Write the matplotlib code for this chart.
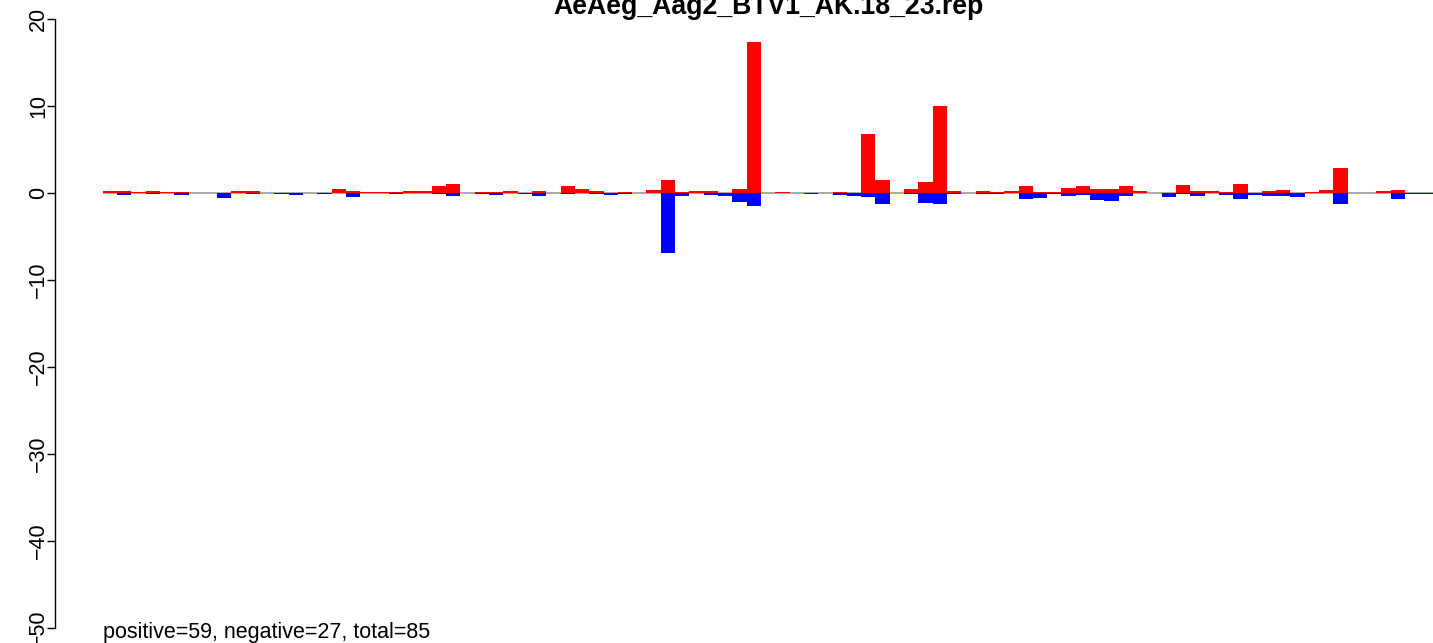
import matplotlib
matplotlib.use("Agg")
import matplotlib.pyplot as plt
import numpy as np

plt.rcParams['font.family'] = ['Liberation Sans', 'DejaVu Sans']

title = "AeAeg_Aag2_BTV1_AK.18_23.rep"
summary = "positive=59, negative=27, total=85"

positive = [0.23, 0.23, 0.1, 0.23, 0.1, 0.1, 0, 0, 0, 0.23,
            0.23, 0, 0, 0, 0, 0, 0.46, 0.23, 0.1, 0.1,
            0.1, 0.23, 0.23, 0.8, 1.03, 0, 0.1, 0.1, 0.23, 0,
            0.23, 0, 0.8, 0.46, 0.23, 0, 0.1, 0, 0.35, 1.5,
            0.1, 0.23, 0.23, 0, 0.46, 17.36, 0, 0.1, 0, 0,
            0, 0.1, 0, 6.78, 1.5, 0, 0.46, 1.26, 10.0, 0.23,
            0, 0.23, 0.1, 0.23, 0.8, 0.1, 0.1, 0.57, 0.8, 0.46,
            0.46, 0.8, 0.23, 0, 0, 0.92, 0.23, 0.23, 0.1, 1.03,
            0, 0.23, 0.35, 0, 0.1, 0.35, 2.87, 0, 0, 0.23,
            0.35, 0, 0]

negative = [0, -0.23, 0, -0.1, 0, -0.23, 0, 0, -0.57, 0,
            -0.1, 0, -0.1, -0.23, 0, -0.1, 0, -0.46, 0, 0,
            -0.1, 0, 0, -0.1, -0.35, 0, -0.1, -0.23, 0, -0.1,
            -0.35, 0, -0.1, 0, -0.1, -0.23, -0.1, 0, 0, -6.86,
            -0.3, 0, -0.2, -0.3, -1.0, -1.46, 0, 0, 0, -0.1,
            0, -0.23, -0.35, -0.46, -1.26, 0, -0.1, -1.15, -1.26, -0.1,
            0, -0.1, -0.1, 0, -0.69, -0.57, -0.1, -0.35, -0.23, -0.8,
            -0.92, -0.35, 0, 0, -0.46, -0.1, -0.35, 0, -0.23, -0.69,
            -0.23, -0.35, -0.35, -0.46, 0, 0, -1.26, 0, 0, 0,
            -0.69, -0.1, -0.1]

y_ticks = [-50, -40, -30, -20, -10, 0, 10, 20]

W, H = 1433, 643
fig = plt.figure(figsize=(W / 100, H / 100), dpi=100)

px_per_bar = 14.31
bar0_px = 102.7
axis_px = 55
zero_px = 193
px_per_unit = 8.7

ax = fig.add_axes([axis_px / W, 0, (W - axis_px) / W, 1])
x0 = -(bar0_px - axis_px) / px_per_bar
ax.set_xlim(x0, x0 + (W - axis_px) / px_per_bar)
ax.set_ylim((zero_px - H) / px_per_unit, zero_px / px_per_unit)

idx = np.arange(len(positive))
ax.hlines(0, 0, len(positive), color='#9a9a9a', lw=1.2, zorder=0)
ax.bar(idx + 0.5, positive, width=1.0, color='#ff0000', linewidth=0, zorder=2)
ax.bar(idx + 0.5, negative, width=1.0, color='#0000ff', linewidth=0, zorder=2)

for s in ['top', 'right', 'bottom']:
    ax.spines[s].set_visible(False)
ax.spines['left'].set_bounds(-50, 20)
ax.spines['left'].set_linewidth(1.0)
ax.set_xticks([])
ax.set_yticks(y_ticks)
ax.set_yticklabels([str(v).replace('-', '\u2212') for v in y_ticks])
ax.tick_params(axis='y', length=6, width=1.0, pad=-1.7, labelsize=15.5)
for lab in ax.get_yticklabels():
    lab.set_rotation(90)
    lab.set_va('center')
    lab.set_ha('right')

ax.text(0, -50.5, summary, ha='left', va='center', fontsize=15.5)
fig.text(768 / W, 1 - 14.5 / H, title, ha='center', va='baseline',
         fontsize=19.2, fontweight='bold')

fig.savefig("out.png", dpi=100)
